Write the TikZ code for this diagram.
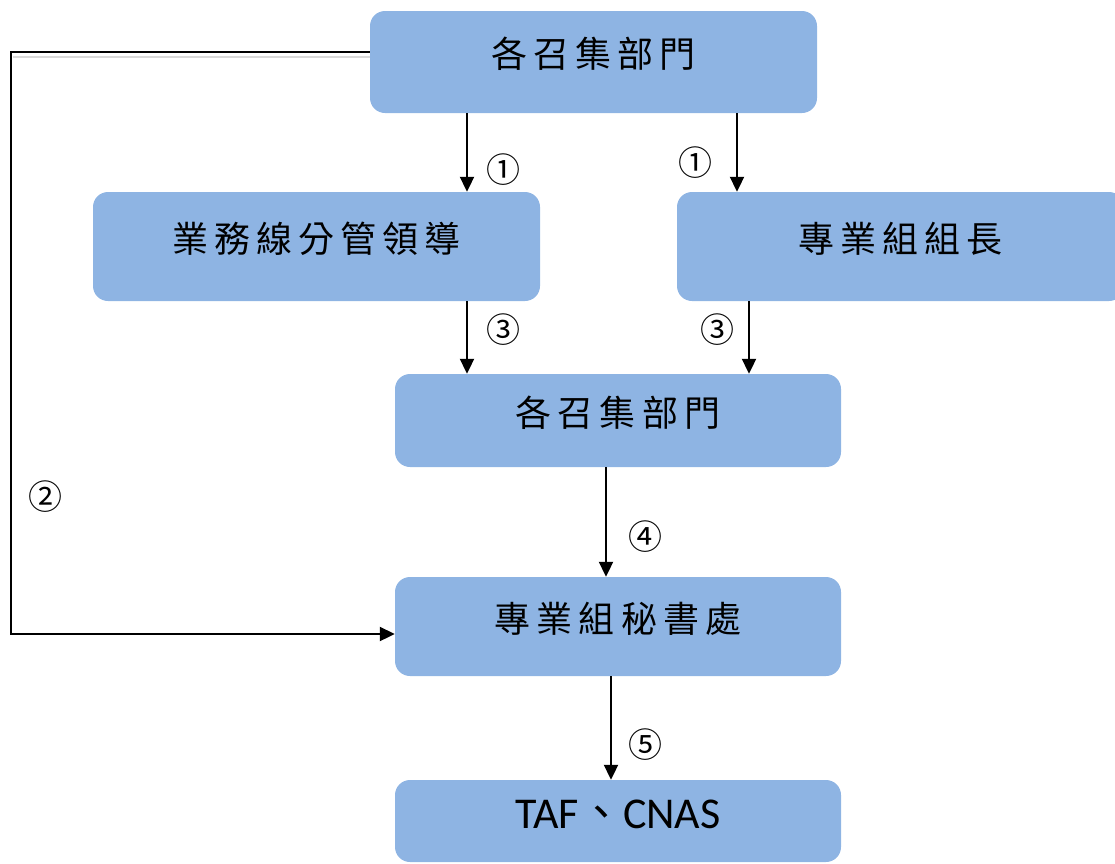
\documentclass[tikz,border=0pt]{standalone}
\usepackage{fontspec}
\usetikzlibrary{arrows.meta}
\newfontfamily\cjk[LetterSpace=17]{Noto Sans CJK TC}
\newfontfamily\cjkplain{Noto Sans CJK TC}
\newfontfamily\latfont{Carlito}
\definecolor{boxblue}{RGB}{142,180,227}
\tikzset{
  box/.style={rectangle, rounded corners=15pt, fill=boxblue, draw=none, inner sep=0pt,
    font=\cjk\fontsize{36pt}{36pt}\selectfont, text height=31pt, text depth=20pt},
  arr/.style={line width=2pt, -{Triangle[width=14pt,length=15pt]}},
  num/.style={font=\cjkplain\fontsize{34pt}{34pt}\selectfont, inner sep=0pt},
}
\begin{document}
\begin{tikzpicture}[x=1pt,y=-1pt]
\useasboundingbox (0,0) rectangle (1115,863);
\clip (0,0) rectangle (1115,863);
\node[box, minimum width=447pt, minimum height=102pt] (b1) at (593.5,62) {各召集部門};
\node[box, minimum width=447pt, minimum height=109pt] (b2) at (316.5,246.5) {業務線分管領導};
\node[box, minimum width=447pt, minimum height=109pt] (b3) at (900.5,246.5) {專業組組長};
\node[box, minimum width=446pt, minimum height=93pt] (b4) at (618,420.5) {各召集部門};
\node[box, minimum width=446pt, minimum height=99pt] (b5) at (618,626.5) {專業組秘書處};
\node[box, minimum width=446pt, minimum height=82pt, text height=30pt, text depth=16pt] (b6) at (618,821)
  {\latfont\fontsize{44pt}{44pt}\selectfont TAF{\cjkplain 、}CNAS};
% x positions of vertical connectors
\coordinate (xa) at (467,0);
\coordinate (xb) at (737,0);
\coordinate (xc) at (749,0);
\coordinate (xd) at (606,0);
\coordinate (xe) at (611,0);
\coordinate (lt) at (11,52);
\coordinate (lb) at (11,634);
% connectors
\draw[arr] (b1.south -| xa) -- (b2.north -| xa);
\draw[arr] (b1.south -| xb) -- (b3.north -| xb);
\draw[arr] (b2.south -| xa) -- (b4.north -| xa);
\draw[arr] (b3.south -| xc) -- (b4.north -| xc);
\draw[arr] (b4.south -| xd) -- (b5.north -| xd);
\draw[arr] (b5.south -| xe) -- (b6.north -| xe);
\draw[line width=1.5pt, gray!30] (13,57) -- (b1.west |- 0,57);
\draw[arr] (b1.west |- lt) -- (lt) -- (lb) -- (b5.west |- lb);
% labels
\node[num] (n1a) at (503,170) {①};
\node[num] (n1b) at (695,163) {①};
\node[num] (n3a) at (503,330) {③};
\node[num] (n3b) at (717,330) {③};
\node[num] (n4) at (645,537) {④};
\node[num] (n5) at (645,745) {⑤};
\node[num] (n2) at (45,497) {②};
\end{tikzpicture}
\end{document}
